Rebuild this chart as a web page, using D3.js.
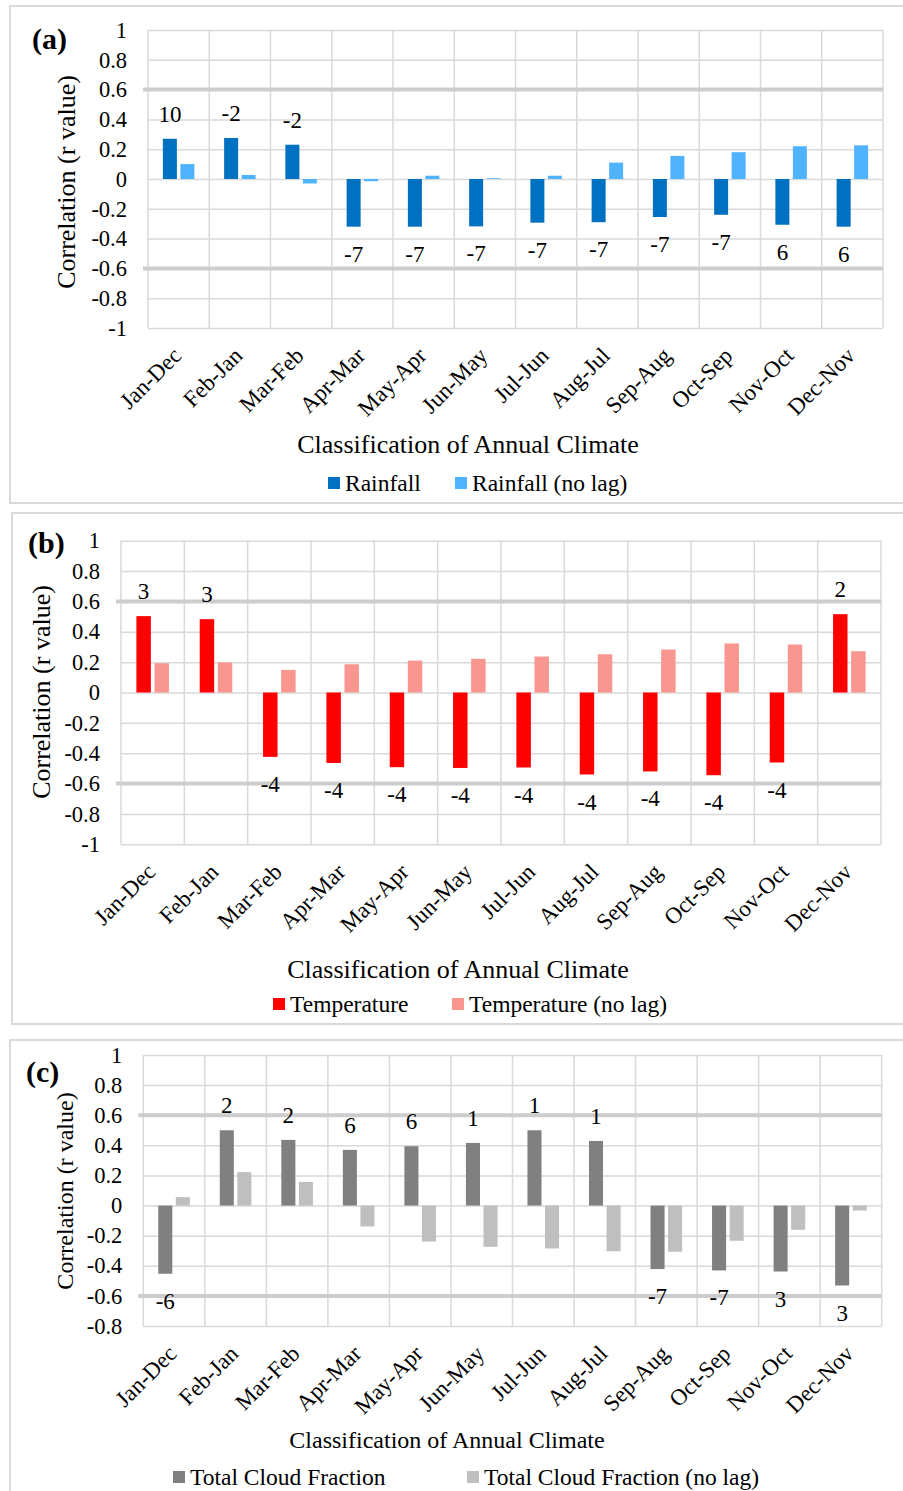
<!DOCTYPE html>
<html>
<head>
<meta charset="utf-8">
<script src="https://cdn.jsdelivr.net/npm/d3@7"></script>
<style>
    body { margin: 0; background: #fff; }
    svg text { font-family: "Liberation Serif", "Times New Roman", Times, "DejaVu Serif", serif; }
</style>
</head>
<body>
<svg id="chart" width="903" height="1491"></svg>
<script>
    // categories (12-month windows)
    var categories = ["Jan-Dec", "Feb-Jan", "Mar-Feb", "Apr-Mar", "May-Apr", "Jun-May",
        "Jul-Jun", "Aug-Jul", "Sep-Aug", "Oct-Sep", "Nov-Oct", "Dec-Nov"];

    // (a) rainfall
    var rainfall = [0.27, 0.275, 0.23, -0.32, -0.32, -0.318, -0.293, -0.29, -0.255, -0.24, -0.307, -0.32];
    var rainfallNoLag = [0.10, 0.027, -0.03, -0.015, 0.022, 0.005, 0.022, 0.11, 0.155, 0.18, 0.22, 0.226];
    var rainfallLag = ["10", "-2", "-2", "-7", "-7", "-7", "-7", "-7", "-7", "-7", "6", "6"];

    // (b) temperature
    var temperature = [0.503, 0.483, -0.424, -0.464, -0.492, -0.497, -0.494, -0.54, -0.52, -0.545, -0.461, 0.516];
    var temperatureNoLag = [0.193, 0.198, 0.149, 0.186, 0.21, 0.222, 0.237, 0.252, 0.283, 0.323, 0.316, 0.272];
    var temperatureLag = ["3", "3", "-4", "-4", "-4", "-4", "-4", "-4", "-4", "-4", "-4", "2"];

    // (c) total cloud fraction
    var cloud = [-0.453, 0.50, 0.436, 0.37, 0.394, 0.416, 0.50, 0.429, -0.422, -0.431, -0.438, -0.531];
    var cloudNoLag = [0.056, 0.222, 0.157, -0.139, -0.239, -0.274, -0.285, -0.303, -0.307, -0.234, -0.161, -0.033];
    var cloudLag = ["-6", "2", "2", "6", "6", "1", "1", "1", "-7", "-7", "3", "3"];

    var ticksAB = [1, 0.8, 0.6, 0.4, 0.2, 0, -0.2, -0.4, -0.6, -0.8, -1];
    var ticksC = [1, 0.8, 0.6, 0.4, 0.2, 0, -0.2, -0.4, -0.6, -0.8];
    var threshold = 0.6;

    var serif = "'Liberation Serif', 'Times New Roman', Times, 'DejaVu Serif', serif";
    var svg = d3.select("svg#chart");

    var panels = [
        {
            tag: "(a)", tagPos: [32, 49],
            box: {x: 10, y: 6, h: 497},
            plot: {x0: 148, x1: 883, top: 30, bottom: 328},
            domain: [-1, 1], ticks: ticksAB,
            series: [rainfall, rainfallNoLag], lag: rainfallLag,
            names: ["Rainfall", "Rainfall (no lag)"],
            colors: ["#0070C0", "#4FB3FF"],
            yTitle: {x: 75, y: 182, size: 26},
            xTitle: {x: 468, y: 453, size: 26},
            legend: {y: 483, xs: [328, 455]}
        },
        {
            tag: "(b)", tagPos: [28, 553],
            box: {x: 12, y: 513, h: 511},
            plot: {x0: 121, x1: 881, top: 540.7, bottom: 844.3},
            domain: [-1, 1], ticks: ticksAB,
            series: [temperature, temperatureNoLag], lag: temperatureLag,
            names: ["Temperature", "Temperature (no lag)"],
            colors: ["#FF0000", "#F8968F"],
            yTitle: {x: 50, y: 692, size: 26},
            xTitle: {x: 458, y: 978, size: 26},
            legend: {y: 1004, xs: [273, 452]}
        },
        {
            tag: "(c)", tagPos: [26, 1082],
            box: {x: 10, y: 1040, h: 470},
            plot: {x0: 143.3, x1: 881.7, top: 1055, bottom: 1326},
            domain: [-0.8, 1], ticks: ticksC,
            series: [cloud, cloudNoLag], lag: cloudLag,
            names: ["Total Cloud Fraction", "Total Cloud Fraction (no lag)"],
            colors: ["#808080", "#BFBFBF"],
            yTitle: {x: 72.7, y: 1191, size: 24},
            xTitle: {x: 447, y: 1448, size: 24},
            legend: {y: 1477, xs: [173, 467]}
        }
    ];

    panels.forEach(drawPanel);

    function drawPanel(p) {
        var g = svg.append("g").attr("font-family", serif);

        // outer frame (right side runs off the page like the source)
        g.append("rect")
            .attr("x", p.box.x).attr("y", p.box.y)
            .attr("width", 920 - p.box.x).attr("height", p.box.h)
            .attr("fill", "none").attr("stroke", "#D9D9D9").attr("stroke-width", 2);

        var x = d3.scaleBand().domain(categories).range([p.plot.x0, p.plot.x1]);
        var pairW = x.bandwidth() * 0.514;
        var x1 = d3.scaleBand().domain([0, 1]).range([0, pairW]).paddingInner(0.2);
        var y = d3.scaleLinear().domain(p.domain).range([p.plot.bottom, p.plot.top]);

        // horizontal grid
        g.append("g")
            .attr("transform", "translate(" + p.plot.x0 + ",0)")
            .call(d3.axisLeft(y).tickValues(p.ticks).tickSize(-(p.plot.x1 - p.plot.x0)).tickFormat(""))
            .call(function (s) {
                s.select(".domain").remove();
                s.selectAll("line").attr("stroke", "#D9D9D9").attr("stroke-width", 1.5);
            });

        // vertical grid at category boundaries
        var edges = categories.map(function (c) { return x(c); }).concat([p.plot.x1]);
        g.selectAll(".vgrid").data(edges).enter().append("line")
            .attr("x1", function (d) { return d; }).attr("x2", function (d) { return d; })
            .attr("y1", p.plot.top).attr("y2", p.plot.bottom)
            .attr("stroke", "#D9D9D9").attr("stroke-width", 1.5);

        // significance lines
        g.selectAll(".thr").data([threshold, -threshold]).enter().append("line")
            .attr("x1", p.plot.x0 - 5).attr("x2", p.plot.x1)
            .attr("y1", function (d) { return y(d); }).attr("y2", function (d) { return y(d); })
            .attr("stroke", "#CDCDCD").attr("stroke-width", 4);

        // y tick labels
        g.append("g")
            .attr("transform", "translate(" + p.plot.x0 + ",0)")
            .call(d3.axisLeft(y).tickValues(p.ticks).tickSize(0).tickPadding(21)
                .tickFormat(function (d) { return String(d); }))
            .call(function (s) {
                s.attr("font-family", serif).attr("font-size", 22.5);
                s.select(".domain").remove();
                s.selectAll("text").attr("fill", "#000");
            });

        // bars
        p.series.forEach(function (vals, si) {
            g.selectAll(".bar" + si).data(vals).enter().append("rect")
                .attr("x", function (d, i) {
                    return x(categories[i]) + (x.bandwidth() - pairW) / 2 + x1(si);
                })
                .attr("width", x1.bandwidth())
                .attr("y", function (d) { return y(Math.max(0, d)); })
                .attr("height", function (d) { return Math.abs(y(d) - y(0)); })
                .attr("fill", p.colors[si]);
        });

        // lag labels over the lagged bar
        g.selectAll(".lag").data(p.lag).enter().append("text")
            .attr("x", function (d, i) {
                return x(categories[i]) + (x.bandwidth() - pairW) / 2 + x1(0) + x1.bandwidth() / 2;
            })
            .attr("y", function (d, i) {
                var v = p.series[0][i];
                return v >= 0 ? y(v) - 25 : y(v) + 27;
            })
            .attr("dy", "0.35em")
            .attr("text-anchor", "middle")
            .attr("font-size", 23)
            .text(function (d) { return d; });

        // rotated category labels
        g.selectAll(".cat").data(categories).enter().append("text")
            .attr("transform", function (d) {
                return "translate(" + (x(d) + x.bandwidth() / 2 + 4) + "," + (p.plot.bottom + 29) + ") rotate(-45)";
            })
            .attr("text-anchor", "end")
            .attr("font-size", 23)
            .text(function (d) { return d; });

        // panel tag
        g.append("text")
            .attr("x", p.tagPos[0]).attr("y", p.tagPos[1])
            .attr("font-size", 30).attr("font-weight", "bold")
            .text(p.tag);

        // axis titles
        g.append("text")
            .attr("transform", "translate(" + p.yTitle.x + "," + p.yTitle.y + ") rotate(-90)")
            .attr("text-anchor", "middle")
            .attr("font-size", p.yTitle.size)
            .text("Correlation (r value)");

        g.append("text")
            .attr("x", p.xTitle.x).attr("y", p.xTitle.y)
            .attr("text-anchor", "middle")
            .attr("font-size", p.xTitle.size)
            .text("Classification of Annual Climate");

        // legend
        var items = g.selectAll(".leg").data(p.names).enter().append("g")
            .attr("transform", function (d, i) {
                return "translate(" + p.legend.xs[i] + "," + p.legend.y + ")";
            });
        items.append("rect")
            .attr("x", 0).attr("y", -6).attr("width", 12).attr("height", 12)
            .attr("fill", function (d, i) { return p.colors[i]; });
        items.append("text")
            .attr("x", 17).attr("dy", "0.35em")
            .attr("font-size", 23.5)
            .text(function (d) { return d; });
    }
</script>
</body>
</html>
